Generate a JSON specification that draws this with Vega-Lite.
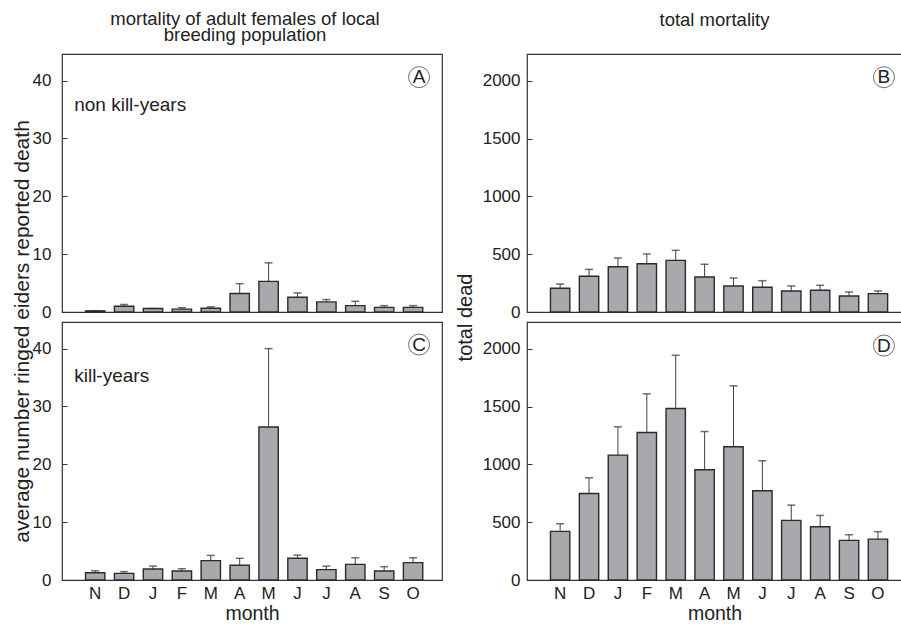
{
  "$schema": "https://vega.github.io/schema/vega-lite/v6.json",
  "autosize": {"type": "pad"},
  "padding": {"left": 10, "top": 8, "right": 0, "bottom": 0},
  "background": "white",
  "config": {
    "font": "Liberation Sans",
    "view": {"stroke": "#333", "strokeWidth": 1.2},
    "axis": {"grid": false, "labelColor": "#222", "titleColor": "#222", "titleFontWeight": "normal"},
    "title": {"color": "#222", "fontWeight": "normal"}
  },
  "datasets": {
    "fem": [
      {"period": "non", "month": "Nov", "value": 0.2, "upper": 0.2},
      {"period": "non", "month": "Dec", "value": 1.0, "upper": 1.3},
      {"period": "non", "month": "Jan", "value": 0.6, "upper": 0.6},
      {"period": "non", "month": "Feb", "value": 0.5, "upper": 0.75},
      {"period": "non", "month": "Mar", "value": 0.65, "upper": 0.9},
      {"period": "non", "month": "Apr", "value": 3.2, "upper": 4.9},
      {"period": "non", "month": "May", "value": 5.3, "upper": 8.5},
      {"period": "non", "month": "Jun", "value": 2.55, "upper": 3.3},
      {"period": "non", "month": "Jul", "value": 1.75, "upper": 2.15},
      {"period": "non", "month": "Aug", "value": 1.1, "upper": 1.85},
      {"period": "non", "month": "Sep", "value": 0.8, "upper": 1.1},
      {"period": "non", "month": "Oct", "value": 0.8, "upper": 1.1},
      {"period": "kill", "month": "Nov", "value": 1.25, "upper": 1.6},
      {"period": "kill", "month": "Dec", "value": 1.15, "upper": 1.45},
      {"period": "kill", "month": "Jan", "value": 1.9, "upper": 2.4},
      {"period": "kill", "month": "Feb", "value": 1.55, "upper": 1.95},
      {"period": "kill", "month": "Mar", "value": 3.35, "upper": 4.25},
      {"period": "kill", "month": "Apr", "value": 2.55, "upper": 3.75},
      {"period": "kill", "month": "May", "value": 26.45, "upper": 40.0},
      {"period": "kill", "month": "Jun", "value": 3.75, "upper": 4.3},
      {"period": "kill", "month": "Jul", "value": 1.8, "upper": 2.4},
      {"period": "kill", "month": "Aug", "value": 2.7, "upper": 3.85},
      {"period": "kill", "month": "Sep", "value": 1.55, "upper": 2.3},
      {"period": "kill", "month": "Oct", "value": 3.0, "upper": 3.85}
    ],
    "tot": [
      {"period": "non", "month": "Nov", "value": 205, "upper": 242},
      {"period": "non", "month": "Dec", "value": 309, "upper": 369},
      {"period": "non", "month": "Jan", "value": 392, "upper": 467},
      {"period": "non", "month": "Feb", "value": 418, "upper": 502},
      {"period": "non", "month": "Mar", "value": 447, "upper": 534},
      {"period": "non", "month": "Apr", "value": 303, "upper": 413},
      {"period": "non", "month": "May", "value": 225, "upper": 294},
      {"period": "non", "month": "Jun", "value": 214, "upper": 271},
      {"period": "non", "month": "Jul", "value": 182, "upper": 225},
      {"period": "non", "month": "Aug", "value": 188, "upper": 231},
      {"period": "non", "month": "Sep", "value": 139, "upper": 173},
      {"period": "non", "month": "Oct", "value": 159, "upper": 182},
      {"period": "kill", "month": "Nov", "value": 421, "upper": 487},
      {"period": "kill", "month": "Dec", "value": 749, "upper": 885},
      {"period": "kill", "month": "Jan", "value": 1081, "upper": 1326},
      {"period": "kill", "month": "Feb", "value": 1277, "upper": 1611},
      {"period": "kill", "month": "Mar", "value": 1484, "upper": 1945},
      {"period": "kill", "month": "Apr", "value": 954, "upper": 1285},
      {"period": "kill", "month": "May", "value": 1153, "upper": 1680},
      {"period": "kill", "month": "Jun", "value": 772, "upper": 1032},
      {"period": "kill", "month": "Jul", "value": 516, "upper": 648},
      {"period": "kill", "month": "Aug", "value": 461, "upper": 559},
      {"period": "kill", "month": "Sep", "value": 343, "upper": 392},
      {"period": "kill", "month": "Oct", "value": 354, "upper": 418}
    ]
  },
  "columns": 2,
  "bounds": "flush",
  "spacing": {"row": 10, "column": 85},
  "concat": [
    {
      "width": 380, "height": 258,
      "title": {"text": ["mortality of adult females of local", "breeding population"], "fontSize": 18.5, "lineHeight": 16, "baseline": "alphabetic", "offset": -5, "frame": "group", "anchor": "middle", "dx": -7},
      "encoding": {
        "x": {"field": "month", "type": "ordinal", "sort": ["Nov","Dec","Jan","Feb","Mar","Apr","May","Jun","Jul","Aug","Sep","Oct"], "scale": {"paddingInner": 0.33, "paddingOuter": 0.74, "align": 0.55}, "axis": null}
      },
      "layer": [
        {"data": {"name": "fem"}, "transform": [{"filter": "datum.period === 'non'"}],
         "mark": {"type": "rule", "color": "#444", "strokeWidth": 1},
         "encoding": {"y": {"field": "value", "type": "quantitative", "scale": {"domain": [0, 44.6], "nice": false},
            "axis": {"values": [0,10,20,30,40], "format": "d", "tickSize": -5, "tickColor": "#333", "labelPadding": 16, "domain": false, "labelFontSize": 17,
              "title": "average number ringed eiders reported death", "titleFontSize": 21, "titleAngle": -90, "titleAlign": "center", "titleBaseline": "bottom", "titleX": -30, "titleY": 277}},
           "y2": {"field": "upper"}}},
        {"data": {"name": "fem"}, "transform": [{"filter": "datum.period === 'non'"}],
         "mark": {"type": "tick", "color": "#333", "thickness": 1.5, "size": 8},
         "encoding": {"y": {"field": "upper", "type": "quantitative"}}},
        {"data": {"name": "fem"}, "transform": [{"filter": "datum.period === 'non'"}],
         "mark": {"type": "bar", "fill": "#a8a9ac", "stroke": "#2b2b2b", "strokeWidth": 1.4},
         "encoding": {"y": {"field": "value", "type": "quantitative"}}},
        {"data": {"values": [{"label": "A"}]},
         "mark": {"type": "point", "shape": "circle", "size": 441, "filled": false, "stroke": "#333", "strokeWidth": 1, "xOffset": 6},
         "encoding": {"x": {"datum": "Oct"}, "y": {"datum": 40.6}}},
        {"data": {"values": [{"label": "A"}]},
         "mark": {"type": "text", "fontSize": 19, "dx": 6, "baseline": "middle", "align": "center", "color": "#222"},
         "encoding": {"x": {"datum": "Oct"}, "y": {"datum": 40.6}, "text": {"field": "label"}}},
        {"data": {"values": [{"label": "non kill-years"}]},
         "mark": {"type": "text", "fontSize": 19, "dx": -21, "baseline": "middle", "align": "left", "color": "#222"},
         "encoding": {"x": {"datum": "Nov"}, "y": {"datum": 35.7}, "text": {"field": "label"}}}
      ]
    },
    {
      "width": 375, "height": 258,
      "title": {"text": "total mortality", "fontSize": 18.5, "baseline": "alphabetic", "offset": 10, "frame": "group", "anchor": "middle"},
      "encoding": {
        "x": {"field": "month", "type": "ordinal", "sort": ["Nov","Dec","Jan","Feb","Mar","Apr","May","Jun","Jul","Aug","Sep","Oct"], "scale": {"paddingInner": 0.33, "paddingOuter": 0.655, "align": 0.62}, "axis": null}
      },
      "layer": [
        {"data": {"name": "tot"}, "transform": [{"filter": "datum.period === 'non'"}],
         "mark": {"type": "rule", "color": "#444", "strokeWidth": 1},
         "encoding": {"y": {"field": "value", "type": "quantitative", "scale": {"domain": [0, 2233], "nice": false},
            "axis": {"values": [0,500,1000,1500,2000], "format": "d", "tickSize": -5, "tickColor": "#333", "labelPadding": 12, "domain": false, "labelFontSize": 17,
              "title": "total dead", "titleFontSize": 20, "titleAngle": -90, "titleAlign": "center", "titleBaseline": "bottom", "titleX": -52, "titleY": 263}},
           "y2": {"field": "upper"}}},
        {"data": {"name": "tot"}, "transform": [{"filter": "datum.period === 'non'"}],
         "mark": {"type": "tick", "color": "#333", "thickness": 1.5, "size": 8},
         "encoding": {"y": {"field": "upper", "type": "quantitative"}}},
        {"data": {"name": "tot"}, "transform": [{"filter": "datum.period === 'non'"}],
         "mark": {"type": "bar", "fill": "#a8a9ac", "stroke": "#2b2b2b", "strokeWidth": 1.4},
         "encoding": {"y": {"field": "value", "type": "quantitative"}}},
        {"data": {"values": [{"label": "B"}]},
         "mark": {"type": "point", "shape": "circle", "size": 441, "filled": false, "stroke": "#333", "strokeWidth": 1, "xOffset": 6},
         "encoding": {"x": {"datum": "Oct"}, "y": {"datum": 2032}}},
        {"data": {"values": [{"label": "B"}]},
         "mark": {"type": "text", "fontSize": 19, "dx": 6, "baseline": "middle", "align": "center", "color": "#222"},
         "encoding": {"x": {"datum": "Oct"}, "y": {"datum": 2032}, "text": {"field": "label"}}}
      ]
    },
    {
      "width": 380, "height": 258,
      "encoding": {
        "x": {"field": "month", "type": "ordinal", "sort": ["Nov","Dec","Jan","Feb","Mar","Apr","May","Jun","Jul","Aug","Sep","Oct"], "scale": {"paddingInner": 0.33, "paddingOuter": 0.74, "align": 0.55},
          "axis": {"labelAngle": 0, "labelExpr": "substring(datum.label, 0, 1)", "ticks": false, "domainColor": "#333", "labelPadding": 5, "labelFontSize": 17,
            "title": "month", "titleFontSize": 19.5, "titleBaseline": "alphabetic", "titleY": 39}}
      },
      "layer": [
        {"data": {"name": "fem"}, "transform": [{"filter": "datum.period === 'kill'"}],
         "mark": {"type": "rule", "color": "#444", "strokeWidth": 1},
         "encoding": {"y": {"field": "value", "type": "quantitative", "scale": {"domain": [0, 44.6], "nice": false},
            "axis": {"values": [0,10,20,30,40], "format": "d", "tickSize": -5, "tickColor": "#333", "labelPadding": 16, "domain": false, "labelFontSize": 17, "title": null}},
           "y2": {"field": "upper"}}},
        {"data": {"name": "fem"}, "transform": [{"filter": "datum.period === 'kill'"}],
         "mark": {"type": "tick", "color": "#333", "thickness": 1.5, "size": 8},
         "encoding": {"y": {"field": "upper", "type": "quantitative"}}},
        {"data": {"name": "fem"}, "transform": [{"filter": "datum.period === 'kill'"}],
         "mark": {"type": "bar", "fill": "#a8a9ac", "stroke": "#2b2b2b", "strokeWidth": 1.4},
         "encoding": {"y": {"field": "value", "type": "quantitative"}}},
        {"data": {"values": [{"label": "C"}]},
         "mark": {"type": "point", "shape": "circle", "size": 441, "filled": false, "stroke": "#333", "strokeWidth": 1, "xOffset": 6},
         "encoding": {"x": {"datum": "Oct"}, "y": {"datum": 40.7}}},
        {"data": {"values": [{"label": "C"}]},
         "mark": {"type": "text", "fontSize": 19, "dx": 6, "baseline": "middle", "align": "center", "color": "#222"},
         "encoding": {"x": {"datum": "Oct"}, "y": {"datum": 40.7}, "text": {"field": "label"}}},
        {"data": {"values": [{"label": "kill-years"}]},
         "mark": {"type": "text", "fontSize": 19, "dx": -21, "baseline": "middle", "align": "left", "color": "#222"},
         "encoding": {"x": {"datum": "Nov"}, "y": {"datum": 35.2}, "text": {"field": "label"}}}
      ]
    },
    {
      "width": 375, "height": 258,
      "encoding": {
        "x": {"field": "month", "type": "ordinal", "sort": ["Nov","Dec","Jan","Feb","Mar","Apr","May","Jun","Jul","Aug","Sep","Oct"], "scale": {"paddingInner": 0.33, "paddingOuter": 0.655, "align": 0.62},
          "axis": {"labelAngle": 0, "labelExpr": "substring(datum.label, 0, 1)", "ticks": false, "domainColor": "#333", "labelPadding": 5, "labelFontSize": 17,
            "title": "month", "titleFontSize": 19.5, "titleBaseline": "alphabetic", "titleY": 39}}
      },
      "layer": [
        {"data": {"name": "tot"}, "transform": [{"filter": "datum.period === 'kill'"}],
         "mark": {"type": "rule", "color": "#444", "strokeWidth": 1},
         "encoding": {"y": {"field": "value", "type": "quantitative", "scale": {"domain": [0, 2233], "nice": false},
            "axis": {"values": [0,500,1000,1500,2000], "format": "d", "tickSize": -5, "tickColor": "#333", "labelPadding": 12, "domain": false, "labelFontSize": 17, "title": null}},
           "y2": {"field": "upper"}}},
        {"data": {"name": "tot"}, "transform": [{"filter": "datum.period === 'kill'"}],
         "mark": {"type": "tick", "color": "#333", "thickness": 1.5, "size": 8},
         "encoding": {"y": {"field": "upper", "type": "quantitative"}}},
        {"data": {"name": "tot"}, "transform": [{"filter": "datum.period === 'kill'"}],
         "mark": {"type": "bar", "fill": "#a8a9ac", "stroke": "#2b2b2b", "strokeWidth": 1.4},
         "encoding": {"y": {"field": "value", "type": "quantitative"}}},
        {"data": {"values": [{"label": "D"}]},
         "mark": {"type": "point", "shape": "circle", "size": 441, "filled": false, "stroke": "#333", "strokeWidth": 1, "xOffset": 6},
         "encoding": {"x": {"datum": "Oct"}, "y": {"datum": 2029}}},
        {"data": {"values": [{"label": "D"}]},
         "mark": {"type": "text", "fontSize": 19, "dx": 6, "baseline": "middle", "align": "center", "color": "#222"},
         "encoding": {"x": {"datum": "Oct"}, "y": {"datum": 2029}, "text": {"field": "label"}}}
      ]
    }
  ]
}
